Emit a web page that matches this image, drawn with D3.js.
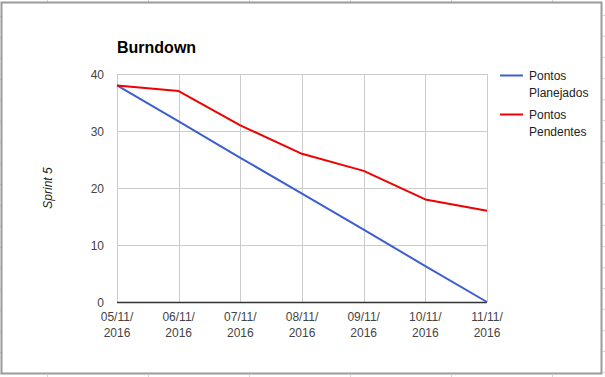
<!DOCTYPE html>
<html>
<head>
<meta charset="utf-8">
<script src="https://cdn.jsdelivr.net/npm/d3@7/dist/d3.min.js"></script>
<style>
    body { margin: 0; background: #fff; }
    text { font-family: "Liberation Sans", Arial, sans-serif; }
</style>
</head>
<body>
<div id="chart"></div>
<script>
// Data
var dates = ["05/11/2016", "06/11/2016", "07/11/2016", "08/11/2016", "09/11/2016", "10/11/2016", "11/11/2016"];
var planejados = [38, 31.7, 25.3, 19, 12.7, 6.3, 0];
var pendentes = [38, 37, 31, 26, 23, 18, 16];
var yTicks = [0, 10, 20, 30, 40];
var seriesNames = [["Pontos", "Planejados"], ["Pontos", "Pendentes"]];
var seriesColors = ["#3c5fd0", "#f00000"];

var W = 605, H = 377;
var margin = { top: 74, right: 118, bottom: 75, left: 117 };
var width = W - margin.left - margin.right,
    height = H - margin.top - margin.bottom;

var svgRoot = d3.select("#chart").append("svg")
    .attr("width", W)
    .attr("height", H);

// spreadsheet cell stubs outside the chart frame
var stubs = svgRoot.append("g").attr("stroke", "#d4d4d4").attr("stroke-width", 1);
[47.5, 148.5, 249.5, 350.5, 451.5, 552.5].forEach(function(x) {
    stubs.append("line").attr("x1", x).attr("x2", x).attr("y1", 0).attr("y2", 2);
    stubs.append("line").attr("x1", x).attr("x2", x).attr("y1", 375).attr("y2", 377);
});
for (var r = 0; r < 18; r++) {
    var yy = 16.5 + r * 21;
    stubs.append("line").attr("x1", 0).attr("x2", 1).attr("y1", yy).attr("y2", yy);
    stubs.append("line").attr("x1", 603).attr("x2", 605).attr("y1", yy - 1).attr("y2", yy - 1);
}

// chart frame
svgRoot.append("rect")
    .attr("x", 1.5).attr("y", 2.5)
    .attr("width", 600).attr("height", 371)
    .attr("fill", "#fff")
    .attr("stroke", "#9a9a9a")
    .attr("stroke-width", 2);

var svg = svgRoot.append("g")
    .attr("transform", "translate(" + margin.left + "," + margin.top + ")");

// Scales
var x = d3.scalePoint()
    .domain(dates)
    .range([0, width]);

var y = d3.scaleLinear()
    .domain([0, 40])
    .range([height, 0]);

// Gridlines
svg.append("g")
    .selectAll("line.h")
    .data(yTicks)
    .enter().append("line")
    .attr("x1", 0).attr("x2", width)
    .attr("y1", function(d) { return Math.round(y(d)) + 0.5; })
    .attr("y2", function(d) { return Math.round(y(d)) + 0.5; })
    .attr("stroke", "#cccccc");

svg.append("g")
    .selectAll("line.v")
    .data(dates)
    .enter().append("line")
    .attr("x1", function(d) { return Math.round(x(d)) + 0.5; })
    .attr("x2", function(d) { return Math.round(x(d)) + 0.5; })
    .attr("y1", 0).attr("y2", height)
    .attr("stroke", "#cccccc");

// Baseline
svg.append("line")
    .attr("x1", 0).attr("x2", width)
    .attr("y1", Math.round(y(0)) + 0.5).attr("y2", Math.round(y(0)) + 0.5)
    .attr("stroke", "#333")
    .attr("stroke-width", 1.3);

// Y axis labels
svg.append("g")
    .selectAll("text")
    .data(yTicks)
    .enter().append("text")
    .attr("x", -13)
    .attr("y", function(d) { return y(d) + 4.5; })
    .attr("text-anchor", "end")
    .attr("fill", "#444")
    .style("font-size", "12px")
    .text(function(d) { return d; });

// X axis labels (two lines)
var xl = svg.append("g")
    .selectAll("text")
    .data(dates)
    .enter().append("text")
    .attr("text-anchor", "middle")
    .attr("fill", "#444")
    .style("font-size", "12px");

xl.append("tspan")
    .attr("x", function(d) { return x(d); })
    .attr("y", height + 19)
    .text(function(d) { return d.slice(0, 6); });

xl.append("tspan")
    .attr("x", function(d) { return x(d); })
    .attr("y", height + 35)
    .text(function(d) { return d.slice(6); });

// Lines
var line = d3.line()
    .x(function(d, i) { return x(dates[i]); })
    .y(function(d) { return y(d); });

[planejados, pendentes].forEach(function(s, i) {
    svg.append("path")
        .datum(s)
        .attr("fill", "none")
        .attr("stroke", seriesColors[i])
        .attr("stroke-width", 2)
        .attr("stroke-linejoin", "round")
        .attr("d", line);
});

// Title
svgRoot.append("text")
    .attr("x", 117)
    .attr("y", 53)
    .style("font-size", "16px")
    .style("font-weight", "bold")
    .attr("fill", "#000")
    .text("Burndown");

// Y axis title
svgRoot.append("text")
    .attr("transform", "translate(52," + (margin.top + height / 2) + ") rotate(-90)")
    .attr("text-anchor", "middle")
    .style("font-size", "12px")
    .style("font-style", "italic")
    .attr("fill", "#222")
    .text("Sprint 5");

// Legend
var legend = svgRoot.append("g")
    .attr("transform", "translate(500,75)");

seriesNames.forEach(function(name, i) {
    var g = legend.append("g").attr("transform", "translate(0," + (i * 39) + ")");
    g.append("line")
        .attr("x1", 0).attr("x2", 23)
        .attr("y1", 0.5).attr("y2", 0.5)
        .attr("stroke", seriesColors[i])
        .attr("stroke-width", 2);
    g.append("text")
        .attr("x", 29).attr("y", 5)
        .attr("fill", "#222")
        .style("font-size", "12px")
        .text(name[0]);
    g.append("text")
        .attr("x", 29).attr("y", 22)
        .attr("fill", "#222")
        .style("font-size", "12px")
        .text(name[1]);
});
</script>
</body>
</html>
